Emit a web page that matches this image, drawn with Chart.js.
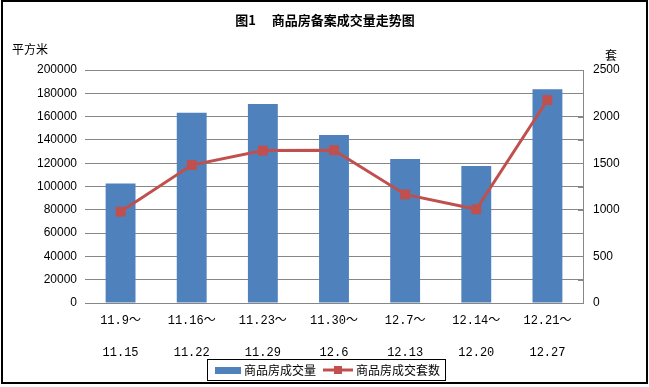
<!DOCTYPE html>
<html>
<head>
<meta charset="utf-8">
<script src="https://cdn.jsdelivr.net/npm/chart.js@4"></script>
<style>
html,body{margin:0;padding:0;background:#fff;}
#wrap{width:649px;height:387px;position:relative;}
</style>
</head>
<body>
<div id="wrap"><canvas id="c" width="649" height="387"></canvas></div>
<script>
const titleText = "图1　 商品房备案成交量走势图";
const leftUnit = "平方米";
const rightUnit = "套";
const weekStart = ["11.9～","11.16～","11.23～","11.30～","12.7～","12.14～","12.21～"];
const weekEnd = ["11.15","11.22","11.29","12.6","12.13","12.20","12.27"];
const areaLabel = "商品房成交量";
const unitsLabel = "商品房成交套数";
const areaValues = [102600, 163300, 170800, 144200, 123600, 117600, 183400];
const unitsValues = [980, 1480, 1635, 1640, 1165, 1005, 2178];
const leftTicks = [0, 200000, 20000];
const rightTicks = [0, 2500, 500, 250];

const labels = weekStart.map((s, i) => [s, "", weekEnd[i]]);
const BLUE = "#4F81BD", RED = "#C0504D", GRID = "#878787";
const CJK = "'Noto Sans CJK SC', sans-serif";

const deco = {
  id: "deco",
  beforeDraw(chart) {
    const ctx = chart.ctx;
    ctx.save();
    ctx.fillStyle = "#fff";
    ctx.fillRect(0, 0, chart.width, chart.height);
    ctx.restore();
  },
  afterDraw(chart) {
    const ctx = chart.ctx;
    ctx.save();
    ctx.strokeStyle = "#000";
    ctx.lineWidth = 2;
    ctx.strokeRect(2, 1, 645, 382);
    ctx.fillStyle = "#000";
    ctx.font = "bold 13px " + CJK;
    ctx.textAlign = "center";
    ctx.textBaseline = "middle";
    ctx.fillText(titleText, 325, 20);
    ctx.font = "12px " + CJK;
    ctx.textAlign = "left";
    ctx.fillText(leftUnit, 12, 49);
    ctx.fillText(rightUnit, 605, 55);
    const yr = chart.scales.y1;
    ctx.strokeStyle = GRID;
    ctx.lineWidth = 1;
    for (let v = rightTicks[0]; v <= rightTicks[1]; v += rightTicks[3]) {
      const y = Math.round(yr.getPixelForValue(v)) + 0.5;
      ctx.beginPath();
      ctx.moveTo(yr.left - 5, y);
      ctx.lineTo(yr.left, y);
      ctx.stroke();
    }
    const lx = 207, ly = 359, lw = 238, lh = 21;
    ctx.strokeStyle = "#000";
    ctx.lineWidth = 1;
    ctx.strokeRect(lx + 0.5, ly + 0.5, lw, lh);
    const cy = ly + lh / 2 + 0.5;
    const ds = chart.data.datasets;
    ctx.fillStyle = ds[0].backgroundColor;
    ctx.fillRect(215, cy - 3, 26, 7);
    ctx.fillStyle = "#000";
    ctx.font = "12px " + CJK;
    ctx.textAlign = "left";
    ctx.textBaseline = "middle";
    ctx.fillText(ds[0].label, 244, cy);
    ctx.strokeStyle = ds[1].borderColor;
    ctx.lineWidth = 3;
    ctx.beginPath();
    ctx.moveTo(323, cy);
    ctx.lineTo(353, cy);
    ctx.stroke();
    ctx.fillStyle = ds[1].pointBackgroundColor;
    ctx.fillRect(334, cy - 4, 8, 8);
    ctx.fillStyle = "#000";
    ctx.fillText(ds[1].label, 356, cy);
    ctx.restore();
  }
};

new Chart(document.getElementById("c"), {
  data: {
    labels: labels,
    datasets: [
      {
        type: "bar",
        label: areaLabel,
        data: areaValues,
        backgroundColor: BLUE,
        yAxisID: "y",
        order: 2,
        categoryPercentage: 1,
        barPercentage: 0.42
      },
      {
        type: "line",
        label: unitsLabel,
        data: unitsValues,
        borderColor: RED,
        backgroundColor: RED,
        pointBackgroundColor: RED,
        pointBorderColor: RED,
        borderWidth: 3,
        pointStyle: "rect",
        pointRadius: 7,
        pointBorderWidth: 0,
        tension: 0,
        yAxisID: "y1",
        order: 1
      }
    ]
  },
  options: {
    responsive: false,
    animation: false,
    devicePixelRatio: 1,
    layout: { padding: { top: 70, left: 0, right: 0, bottom: 0 } },
    plugins: { legend: { display: false }, title: { display: false }, tooltip: { enabled: false } },
    scales: {
      x: {
        afterFit(s) { s.height = 84; },
        grid: { display: false },
        border: { display: false },
        ticks: {
          padding: 2,
          maxRotation: 0,
          autoSkip: false,
          color: "#000",
          font: { family: "'Liberation Mono', 'Noto Sans CJK SC', monospace", size: 12, lineHeight: "16px" }
        }
      },
      y: {
        position: "left",
        min: leftTicks[0],
        max: leftTicks[1],
        afterFit(s) { s.width = 85; },
        grid: { color: GRID, lineWidth: 1, drawTicks: false },
        border: { display: false },
        ticks: {
          stepSize: leftTicks[2],
          padding: 8,
          color: "#000",
          callback: (v) => String(v),
          font: { family: "'Liberation Sans', sans-serif", size: 12 }
        }
      },
      y1: {
        position: "right",
        min: rightTicks[0],
        max: rightTicks[1],
        afterFit(s) { s.width = 66; },
        grid: { drawOnChartArea: false, drawTicks: false },
        border: { display: true, color: GRID, width: 1 },
        ticks: {
          stepSize: rightTicks[2],
          padding: 10,
          color: "#000",
          callback: (v) => String(v),
          font: { family: "'Liberation Sans', sans-serif", size: 12 }
        }
      }
    }
  },
  plugins: [deco]
});
</script>
</body>
</html>
